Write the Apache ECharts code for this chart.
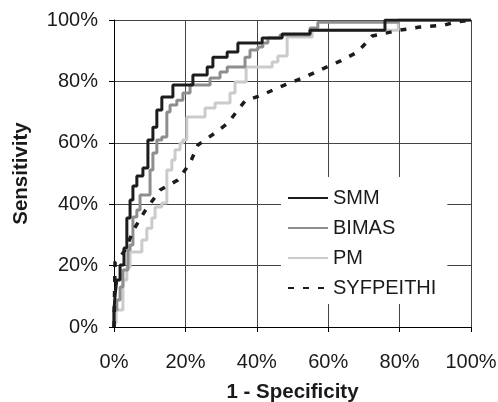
<!DOCTYPE html>
<html>
<head>
<meta charset="utf-8">
<script src="https://cdn.jsdelivr.net/npm/echarts@6/dist/echarts.min.js"></script>
<style>
  html, body { margin: 0; padding: 0; background: #fff; }
  #chart { width: 498px; height: 402px; }
</style>
</head>
<body>
<div id="chart"></div>
<script>
// ROC curves, [1 - specificity, sensitivity]
// step curves: each point is the foot of a vertical riser
const smmPoints = [
  [0, 0], [0.003, 0.055], [0.008, 0.104], [0.017, 0.153], [0.028, 0.202],
  [0.036, 0.257], [0.045, 0.355], [0.053, 0.414], [0.064, 0.459], [0.081, 0.492],
  [0.095, 0.518], [0.109, 0.609], [0.120, 0.651], [0.134, 0.707], [0.165, 0.749],
  [0.221, 0.788], [0.261, 0.821], [0.277, 0.847], [0.317, 0.879], [0.347, 0.896],
  [0.415, 0.925], [0.471, 0.941], [0.549, 0.954], [0.759, 0.967], [1, 1]
]
const bimasPoints = [
  [0, 0], [0.008, 0.055], [0.017, 0.088], [0.025, 0.130], [0.039, 0.186],
  [0.045, 0.251], [0.053, 0.267], [0.064, 0.358], [0.073, 0.381], [0.101, 0.430],
  [0.109, 0.511], [0.120, 0.567], [0.134, 0.609], [0.148, 0.619], [0.157, 0.700],
  [0.176, 0.723], [0.193, 0.739], [0.213, 0.762], [0.269, 0.788], [0.297, 0.811],
  [0.317, 0.831], [0.367, 0.847], [0.381, 0.879], [0.403, 0.902], [0.417, 0.912],
  [0.431, 0.925], [0.465, 0.941], [0.549, 0.951], [0.571, 0.974], [0.796, 0.993], [1, 1]
]
const pmPoints = [
  [0, 0], [0.006, 0.013], [0.025, 0.055], [0.036, 0.153], [0.045, 0.195],
  [0.078, 0.244], [0.092, 0.283], [0.106, 0.322], [0.115, 0.355], [0.134, 0.391],
  [0.148, 0.404], [0.162, 0.511], [0.171, 0.544], [0.185, 0.577], [0.193, 0.599],
  [0.204, 0.609], [0.255, 0.684], [0.283, 0.713], [0.325, 0.730], [0.339, 0.762],
  [0.370, 0.798], [0.443, 0.847], [0.459, 0.863], [0.485, 0.883], [0.555, 0.945],
  [0.796, 0.967], [1, 1]
]
// smooth-ish curve
const syfPoints = [
  [0, 0], [0.003, 0.212], [0.017, 0.228], [0.031, 0.251], [0.056, 0.319],
  [0.087, 0.378], [0.129, 0.446], [0.179, 0.479], [0.213, 0.534], [0.235, 0.593],
  [0.283, 0.632], [0.319, 0.664], [0.347, 0.707], [0.367, 0.736], [0.415, 0.756],
  [0.459, 0.779], [0.487, 0.792], [0.535, 0.814], [0.577, 0.837], [0.633, 0.866],
  [0.683, 0.896], [0.723, 0.948], [0.801, 0.967], [0.857, 0.977], [0.927, 0.984],
  [0.955, 0.993], [1, 1]
]
const legendNames = ['SMM', 'BIMAS', 'PM', 'SYFPEITHI']

const chart = echarts.init(document.getElementById('chart'))

const font = "'Liberation Sans', Arial, sans-serif"
const pct = (v) => Math.round(v * 100) + '%'

const axisBase = {
  type: 'value',
  min: 0,
  max: 1,
  interval: 0.2,
  axisLine: { show: true, lineStyle: { color: '#000', width: 1 } },
  axisTick: { show: true, length: 5, lineStyle: { color: '#000' } },
  splitLine: { show: true, lineStyle: { color: '#444', width: 1 } },
  axisLabel: { formatter: pct, color: '#1a1a1a', fontSize: 20, fontFamily: font },
  nameLocation: 'middle',
  nameTextStyle: { color: '#1a1a1a', fontSize: 20.5, fontWeight: 'bold', fontFamily: font },
}

const lineSerie = (name, data, color, z) => ({
  name,
  type: 'line',
  data,
  step: 'start',
  symbol: 'none',
  z,
  lineStyle: { color, width: 3 },
  itemStyle: { color },
})

const option = {
  animation: false,
  backgroundColor: '#fff',
  grid: { left: 114, top: 20, right: 27, bottom: 75, outerBoundsMode: 'none', containLabel: false },
  xAxis: {
    ...axisBase,
    name: '1 - Specificity',
    nameGap: 55,
    axisLabel: { ...axisBase.axisLabel, margin: 25 },
  },
  yAxis: {
    ...axisBase,
    name: 'Sensitivity',
    nameGap: 82,
    axisLabel: { ...axisBase.axisLabel, margin: 16 },
  },
  legend: {
    data: legendNames,
    orient: 'vertical',
    left: 281,
    top: 177,
    padding: [11, 11, 6, 6],
    backgroundColor: '#fff',
    itemWidth: 40,
    itemHeight: 14,
    itemGap: 10,
    itemStyle: { opacity: 0 },
    textStyle: { color: '#1a1a1a', fontSize: 20, fontFamily: font, lineHeight: 20 },
  },
  series: [
    lineSerie('PM', pmPoints, '#cbcbcb', 2),
    lineSerie('BIMAS', bimasPoints, '#8e8e8e', 3),
    lineSerie('SMM', smmPoints, '#1c1c1c', 4),
    {
      name: 'SYFPEITHI',
      type: 'line',
      data: syfPoints,
      symbol: 'none',
      z: 5,
      lineStyle: { color: '#1c1c1c', width: 3.5, type: [6, 9] },
      itemStyle: { color: '#1c1c1c' },
    },
  ],
}

chart.setOption(option)
</script>
</body>
</html>
